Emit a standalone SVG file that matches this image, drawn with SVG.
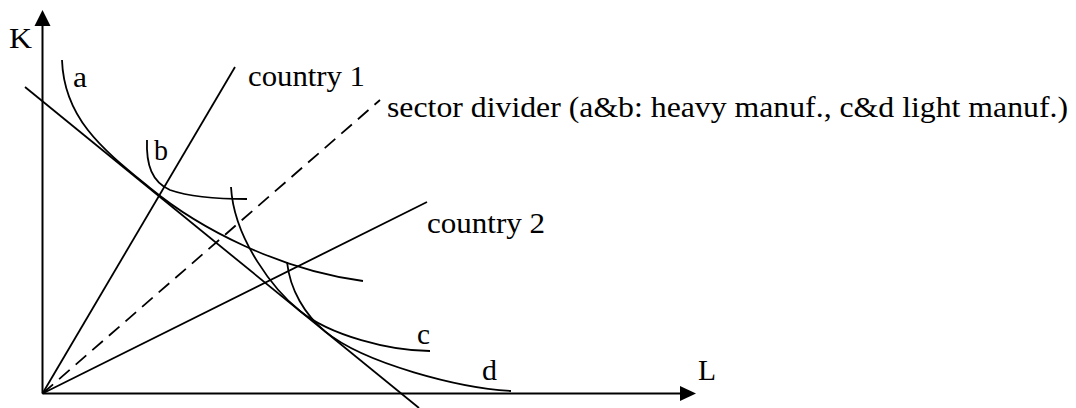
<svg xmlns="http://www.w3.org/2000/svg" width="1076" height="408" viewBox="0 0 1076 408">
<style>
.ln{fill:none;stroke:#000;stroke-width:1.8;stroke-linecap:butt}
.ax{fill:none;stroke:#000;stroke-width:2}
.dash{fill:none;stroke:#000;stroke-width:1.8;stroke-dasharray:14 8}
.ah{fill:#000;stroke:none}
text{font-family:"Liberation Serif","Times New Roman",serif;font-size:30px;fill:#000}
</style>
<rect width="1076" height="408" fill="#fff"/>
<g id="axes">
<line class="ax" x1="42.5" y1="393.5" x2="42.5" y2="24"/>
<polygon class="ah" points="42.5,10 34.5,26 50.5,26"/>
<line class="ax" x1="42.5" y1="393.5" x2="682" y2="393.5"/>
<polygon class="ah" points="696,393.5 680,386 680,401"/>
<text x="9" y="48" textLength="23" lengthAdjust="spacingAndGlyphs">K</text>
<text x="698" y="380" textLength="18" lengthAdjust="spacingAndGlyphs">L</text>
</g>
<g id="connectors">
<line id="country1-ray" class="ln" x1="42.5" y1="393.5" x2="235" y2="67"/>
<line id="country2-ray" class="ln" x1="42.5" y1="393.5" x2="427" y2="202"/>
<line id="sector-divider" class="dash" x1="42.5" y1="393.5" x2="380" y2="100"/>
<line id="budget-line" class="ln" x1="25" y1="87" x2="419" y2="408"/>
</g>
<g id="isoquant-a">
<path class="ln" d="M62,60 C64,120 105,151 150,188 C200,229 280,270 363,281"/>
<text x="73" y="87" textLength="14" lengthAdjust="spacingAndGlyphs">a</text>
</g>
<g id="isoquant-b">
<path class="ln" d="M147,140 C146,165 152,182 170,190 C190,197 220,199 247,199"/>
<text x="154" y="160" textLength="14" lengthAdjust="spacingAndGlyphs">b</text>
</g>
<g id="isoquant-c">
<path class="ln" d="M231,187 C234,240 275,291 300,311 C330,335.4 390,351 430,351"/>
<text x="417" y="344" textLength="13" lengthAdjust="spacingAndGlyphs">c</text>
</g>
<g id="isoquant-d">
<path class="ln" d="M287,262 C290,290 305,315 325,331.4 C365,364 460,388 511,391"/>
<text x="482" y="380" textLength="15" lengthAdjust="spacingAndGlyphs">d</text>
</g>
<g id="label-country1">
<text x="248" y="86" textLength="117" lengthAdjust="spacingAndGlyphs">country 1</text>
</g>
<g id="label-country2">
<text x="427" y="233" textLength="118" lengthAdjust="spacingAndGlyphs">country 2</text>
</g>
<g id="label-sector">
<text x="387" y="117" textLength="681" lengthAdjust="spacingAndGlyphs">sector divider (a&amp;b: heavy manuf., c&amp;d light manuf.)</text>
</g>
</svg>
